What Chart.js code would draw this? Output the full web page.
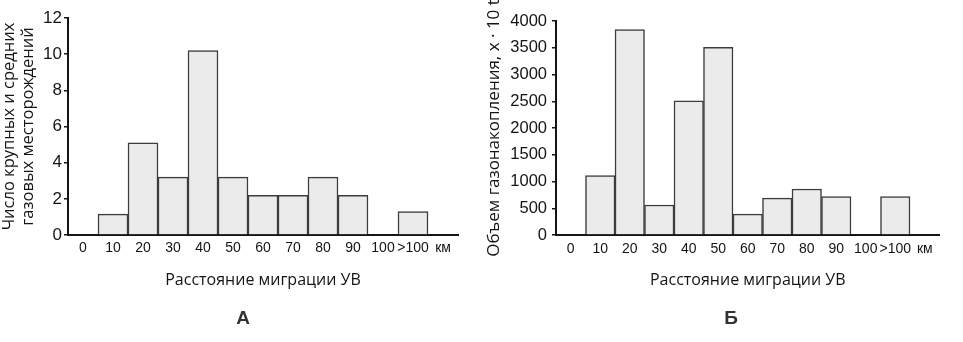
<!DOCTYPE html>
<html lang="ru">
<head>
<meta charset="utf-8">
<title>Расстояние миграции УВ</title>
<script src="https://cdn.jsdelivr.net/npm/chart.js@4/dist/chart.umd.min.js"></script>
<style>
    html, body { margin: 0; padding: 0; background: #fff; }
    #page { position: relative; width: 963px; height: 342px; overflow: hidden; }
    .panel { position: absolute; top: 0; height: 342px; }
    #panelA { left: 0; width: 480px; }
    #panelB { left: 480px; width: 483px; }
    .caption {
        position: absolute; top: 306px; width: 40px; margin-left: -20px;
        text-align: center; font: bold 19px 'Liberation Sans', Arial, sans-serif;
        color: #333; line-height: 24px;
    }
</style>
</head>
<body>
<div id="page">
    <div class="panel" id="panelA"><canvas id="chartA"></canvas></div>
    <div class="panel" id="panelB"><canvas id="chartB"></canvas></div>
    <div class="caption" style="left: 243px;">А</div>
    <div class="caption" style="left: 731px;">Б</div>
</div>
<script>
// distance classes, km
const distances = ['0', '10', '20', '30', '40', '50', '60', '70', '80', '90', '100', '>100'];
const unitLabel = 'км';

// A: number of large and medium gas fields per class
const fieldCounts = [0, 1.15, 5.1, 3.2, 10.2, 3.2, 2.2, 2.2, 3.2, 2.2, 0, 1.3];
const countTicks = [0, 2, 4, 6, 8, 10, 12];

// Б: gas accumulation volume per class
const gasVolumes = [0, 1110, 3840, 560, 2510, 3510, 390, 690, 860, 720, 0, 720];
const volumeTicks = [0, 500, 1000, 1500, 2000, 2500, 3000, 3500, 4000];

const xTitle = 'Расстояние миграции УВ';
const yTitleA = ['Число крупных и средних', 'газовых месторождений'];
const yTitleB = 'Объем газонакопления, x · 10 t';

const ink = '#141414';
const tickFont = "'Liberation Sans', Arial, sans-serif";
const titleFont = "'Open Sans', 'DejaVu Sans', sans-serif";

// the extra slot on the right only carries the unit label
const axisLabels = distances.concat([unitLabel]);

function buildHistogram(canvasId, values, ticks, cfg) {
    const data = values.concat([null]);
    return new Chart(document.getElementById(canvasId), {
        type: 'bar',
        data: {
            labels: axisLabels,
            datasets: [{
                data,
                backgroundColor: '#ebebeb',
                borderColor: '#3c3c3c',
                borderWidth: 1.5,
                borderSkipped: 'bottom',
                barPercentage: 1,
                categoryPercentage: 1
            }]
        },
        options: {
            responsive: true,
            maintainAspectRatio: false,
            animation: false,
            layout: { padding: cfg.padding },
            plugins: {
                legend: { display: false },
                tooltip: { enabled: false },
                title: { display: false }
            },
            scales: {
                x: {
                    afterFit: s => { s.height = 57; },
                    grid: { drawOnChartArea: false, drawTicks: false },
                    border: { color: ink, width: 2 },
                    ticks: {
                        color: ink,
                        padding: cfg.xTickPad,
                        maxRotation: 0,
                        autoSkip: false,
                        font: { family: tickFont, size: 14 }
                    },
                    title: {
                        display: true,
                        text: xTitle,
                        color: ink,
                        font: { family: titleFont, size: 16 },
                        padding: { top: 0, bottom: 2.4 }
                    }
                },
                y: {
                    min: 0,
                    max: ticks[ticks.length - 1],
                    afterFit: s => { s.width = cfg.yWidth; },
                    afterBuildTicks: s => { s.ticks = ticks.map(v => ({ value: v })); },
                    grid: { drawOnChartArea: false, drawTicks: true, tickLength: 4, color: ink, lineWidth: 1.5 },
                    border: { color: ink, width: 2 },
                    ticks: {
                        color: ink,
                        padding: cfg.yTickPad,
                        font: { family: tickFont, size: cfg.yTickSize },
                        callback: v => String(v)
                    },
                    title: {
                        display: true,
                        text: cfg.yTitle,
                        color: ink,
                        font: { family: titleFont, size: cfg.yTitleSize, lineHeight: 1.2 },
                        padding: { top: cfg.yTitlePad, bottom: 0 }
                    }
                }
            }
        }
    });
}

buildHistogram('chartA', fieldCounts, countTicks, {
    padding: { left: 0, top: 18, right: 22, bottom: 50 },
    yWidth: 68,
    yTickSize: 17,
    yTickPad: 2,
    xTickPad: 5,
    yTitle: yTitleA,
    yTitleSize: 16.5,
    yTitlePad: -1
});

buildHistogram('chartB', gasVolumes, volumeTicks, {
    padding: { left: 0, top: 21, right: 23.5, bottom: 50 },
    yWidth: 76,
    yTickSize: 16.5,
    yTickPad: 5,
    xTickPad: 6,
    yTitle: yTitleB,
    yTitleSize: 17,
    yTitlePad: 4
});
</script>
</body>
</html>
